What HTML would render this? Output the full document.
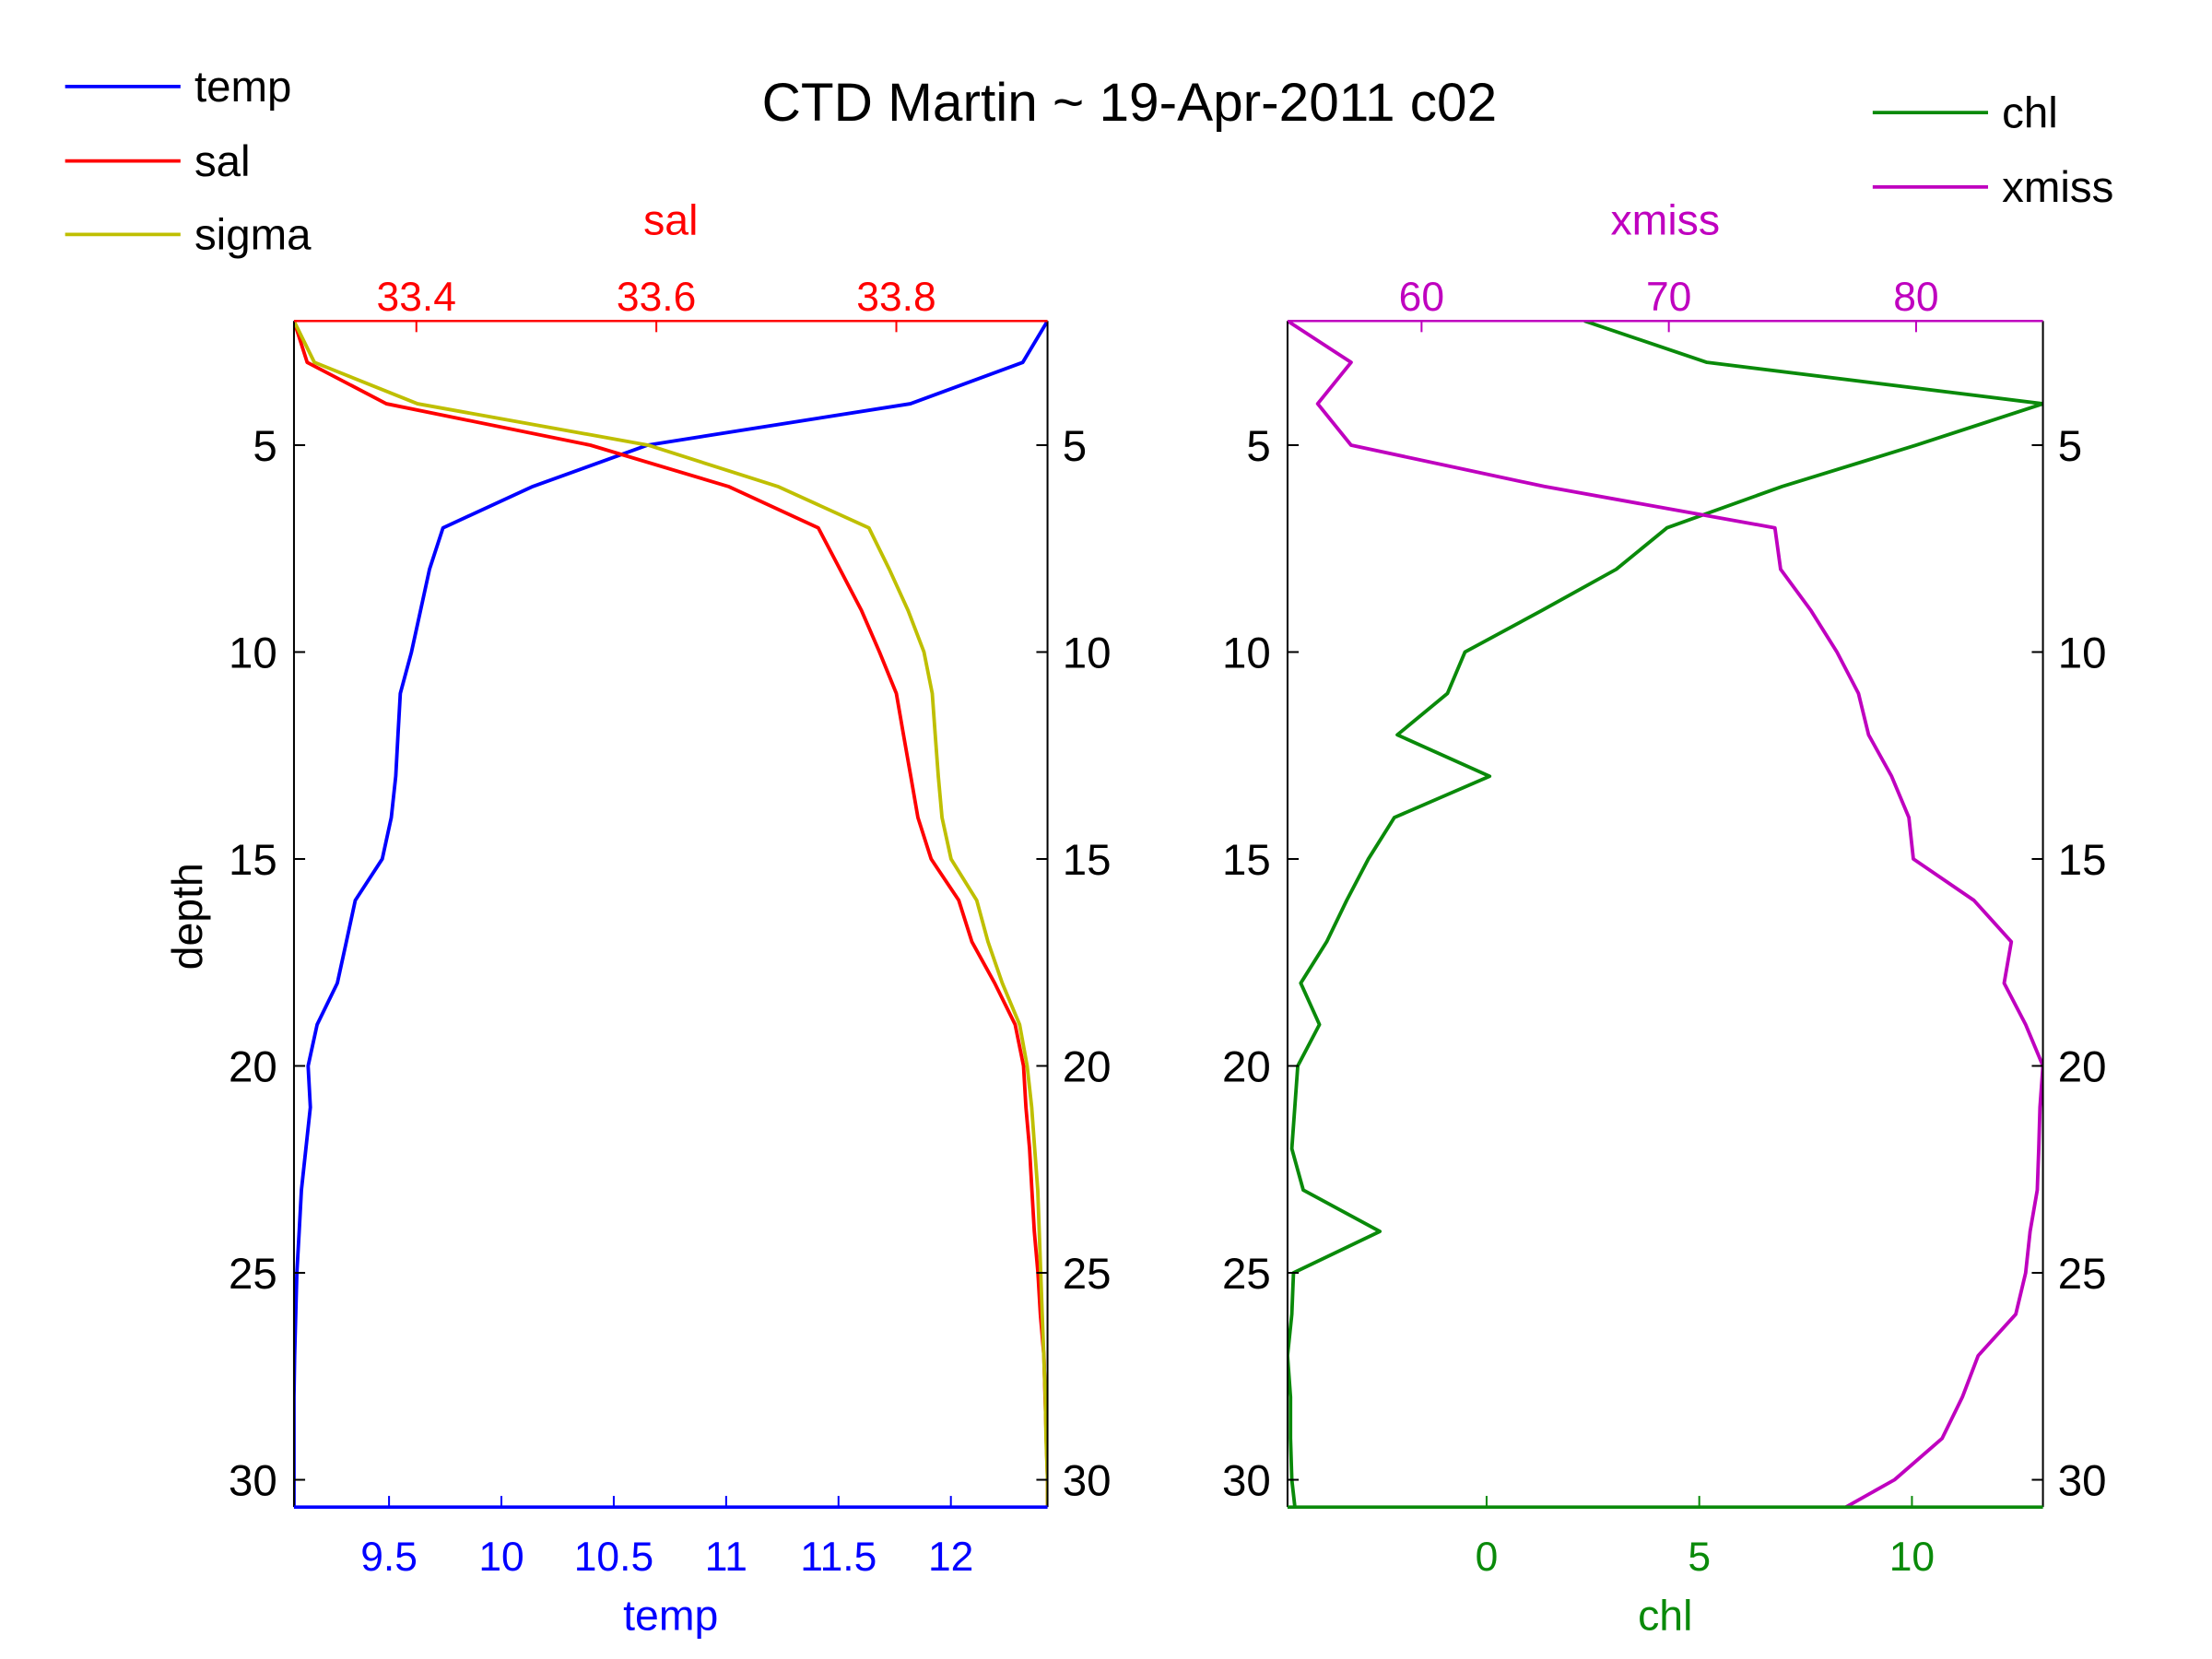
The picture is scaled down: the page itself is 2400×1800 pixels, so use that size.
<!DOCTYPE html>
<html><head><meta charset="utf-8"><style>
html,body{margin:0;padding:0;background:#fff;}
svg{display:block;font-family:"Liberation Sans",sans-serif;}
</style></head><body>
<svg id="chart" width="2400" height="1800" viewBox="0 0 2400 1800" xmlns="http://www.w3.org/2000/svg">
<rect x="0" y="0" width="2400" height="1800" fill="#fff"/>
<g transform="scale(1.00937)">
<text x="1214" y="130" font-size="58" text-anchor="middle">CTD Martin ~ 19-Apr-2011 c02</text>
<g id="plots"></g>
</g>
</svg>
<script>
const depths=[2,3,4,5,6,7,8,9,10,11,12,13,14,15,16,17,18,19,20,21,22,23,24,25,26,27,28,29,30,31];
const temp=[12.43,12.32,11.82,10.65,10.14,9.74,9.68,9.64,9.6,9.55,9.54,9.53,9.51,9.47,9.35,9.31,9.27,9.18,9.14,9.15,9.13,9.11,9.10,9.09,9.085,9.08,9.077,9.077,9.077,9.077];
const sal=[33.298,33.309,33.375,33.545,33.66,33.735,33.753,33.771,33.786,33.8,33.806,33.812,33.818,33.829,33.852,33.863,33.882,33.899,33.906,33.908,33.911,33.913,33.915,33.918,33.920,33.923,33.924,33.925,33.926,33.926];
const sigma=[25.0,25.027,25.164,25.47,25.642,25.763,25.79,25.815,25.836,25.847,25.851,25.855,25.86,25.872,25.906,25.921,25.94,25.963,25.973,25.979,25.983,25.987,25.989,25.991,25.993,25.995,25.997,25.998,26.0,26.0];
const chl=[2.30,5.18,13.08,10.1,6.95,4.24,3.05,1.29,-0.51,-0.92,-2.1,0.07,-2.17,-2.78,-3.29,-3.76,-4.37,-3.93,-4.44,-4.51,-4.58,-4.31,-2.51,-4.54,-4.58,-4.68,-4.61,-4.61,-4.58,-4.47];
const xmiss=[54.58,57.15,55.8,57.15,64.96,74.29,74.52,75.75,76.8,77.67,78.08,79.01,79.71,79.89,82.34,83.85,83.56,84.43,85.13,85.01,84.96,84.9,84.61,84.43,84.03,82.51,81.87,81.05,79.13,76.15];
const depthTicks=[5,10,15,20,25,30];
const tempTicks=[9.5,10,10.5,11,11.5,12];
const tempTickLabels=["9.5","10","10.5","11","11.5","12"];
const salTicks=[33.4,33.6,33.8];
const salTickLabels=["33.4","33.6","33.8"];
const xmissTicks=[60,70,80];
const xmissTickLabels=["60","70","80"];
const chlTicks=[0,5,10];
const chlTickLabels=["0","5","10"];
const depthRange=[2,30.66];
const tempRange=[9.077,12.43];
const salRange=[33.298,33.926];
const sigmaRange=[25.0,26.0];
const chlRange=[-4.68,13.08];
const xmissRange=[54.58,85.13];

const NS="http://www.w3.org/2000/svg";
const g=document.getElementById('plots');
const TOP=345,BOT=1620;
const L1=[316,1126],L2=[1384,2196];
function yS(d){return TOP+(d-depthRange[0])/(depthRange[1]-depthRange[0])*(BOT-TOP);}
function xS(v,r,px){return px[0]+(v-r[0])/(r[1]-r[0])*(px[1]-px[0]);}
function mk(tag,attrs){const e=document.createElementNS(NS,tag);for(const k in attrs)e.setAttribute(k,attrs[k]);return e;}

const defs=mk('defs',{});
[['c1',L1],['c2',L2]].forEach(([id,px])=>{const cp=mk('clipPath',{id:id});cp.appendChild(mk('rect',{x:px[0],y:TOP,width:px[1]-px[0],height:BOT-TOP}));defs.appendChild(cp);});
g.appendChild(defs);

function series(vals,r,px,color,clip,name){
  const pts=vals.map((v,i)=>xS(v,r,px).toFixed(1)+','+yS(depths[i]).toFixed(1)).join(' ');
  const p=mk('polyline',{points:pts,fill:'none',stroke:color,'stroke-width':3.8,'stroke-linejoin':'round','clip-path':'url(#'+clip+')'});
  
  
  g.appendChild(p);
}
function line(x1,y1,x2,y2,c,w,name){const l=mk('line',{x1:x1,y1:y1,x2:x2,y2:y2,stroke:c,'stroke-width':w});g.appendChild(l);return l;}
function text(x,y,s,c,anchor,size,name,extra){const t=mk('text',Object.assign({x:x,y:y,fill:c,'text-anchor':anchor,'font-size':size},extra||{}));t.textContent=s;g.appendChild(t);return t;}

function axes(px,topC,botC,topTicks,topLabels,topR,botTicks,botLabels,botR,topTitle,botTitle,pre){
  line(px[0],TOP,px[0],BOT,'#000',2,pre+'-left-axis');
  line(px[1],TOP,px[1],BOT,'#000',2,pre+'-right-axis');
  line(px[0],TOP,px[1],TOP,topC,2.5,pre+'-top-axis');
  line(px[0],BOT,px[1],BOT,botC,3.5,pre+'-bottom-axis');
  depthTicks.forEach(d=>{const y=yS(d);
    line(px[0],y,px[0]+12,y,'#000',2,pre+'-depth-tick');
    line(px[1]-12,y,px[1],y,'#000',2,pre+'-depth-tick-right');
    text(px[0]-18,y+17,String(d),'#000','end',47,pre+'-depth-label');
    text(px[1]+16,y+17,String(d),'#000','start',47,pre+'-depth-label-right');
  });
  topTicks.forEach((v,i)=>{const x=xS(v,topR,px);
    line(x,TOP,x,TOP+12,topC,2,pre+'-top-tick');
    text(x,334,topLabels[i],topC,'middle',44,pre+'-top-tick-label');
  });
  botTicks.forEach((v,i)=>{const x=xS(v,botR,px);
    line(x,BOT,x,BOT-12,botC,2,pre+'-bottom-tick');
    text(x,1688,botLabels[i],botC,'middle',44,pre+'-bottom-tick-label');
  });
  const mid=(px[0]+px[1])/2;
  text(mid,252,topTitle,topC,'middle',46,pre+'-top-axis-title');
  text(mid,1752,botTitle,botC,'middle',46,pre+'-bottom-axis-title');
}

series(temp,tempRange,L1,'#0000ff','c1','temp-line');
series(sal,salRange,L1,'#ff0000','c1','sal-line');
series(sigma,sigmaRange,L1,'#bfbf00','c1','sigma-line');
series(chl,chlRange,L2,'#0a8a0a','c2','chl-line');
series(xmiss,xmissRange,L2,'#bf00bf','c2','xmiss-line');

axes(L1,'#ff0000','#0000ff',salTicks,salTickLabels,salRange,tempTicks,tempTickLabels,tempRange,'sal','temp','left-panel');
axes(L2,'#bf00bf','#0a8a0a',xmissTicks,xmissTickLabels,xmissRange,chlTicks,chlTickLabels,chlRange,'xmiss','chl','right-panel');

text(217,985,'depth','#000','middle',46,'y-axis-title',{transform:'rotate(-90 217 985)'});

const leg1=[['temp','#0000ff',93],['sal','#ff0000',173],['sigma','#bfbf00',252]];
leg1.forEach(([n,c,y])=>{line(70,y,194,y,c,3.8,'legend-line-'+n);text(209,y+16,n,'#000','start',47,'legend-label-'+n);});
const leg2=[['chl','#0a8a0a',121],['xmiss','#bf00bf',201]];
leg2.forEach(([n,c,y])=>{line(2013,y,2137,y,c,3.8,'legend-line-'+n);text(2152,y+16,n,'#000','start',47,'legend-label-'+n);});
</script>
</body></html>
